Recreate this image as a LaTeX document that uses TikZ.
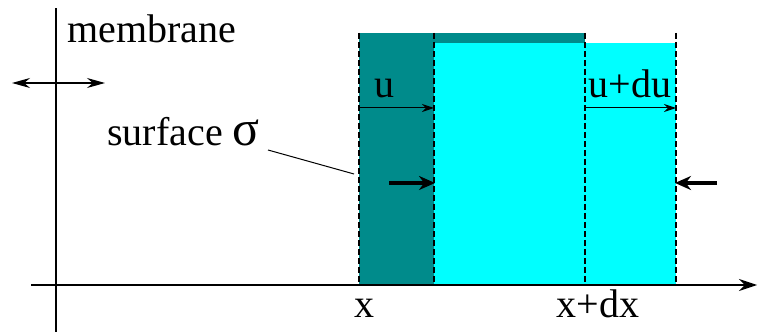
\documentclass[tikz,border=0pt]{standalone}
\usepackage{fontspec}
\setmainfont{Liberation Serif}
\usetikzlibrary{arrows.meta}
\definecolor{darkteal}{RGB}{0,139,139}
\definecolor{lightcyan}{RGB}{0,255,255}
\tikzset{
  lbl/.style={inner sep=0pt, font=\fontsize{20}{24}\selectfont},
  guide/.style={dash pattern=on 3pt off 1.5pt, line width=0.6pt},
  thin arrow/.style={-{Stealth[length=6pt,width=4pt]}, line width=0.5pt},
  push arrow/.style={-{Stealth[length=8pt,width=7pt]}, line width=2pt},
}
\begin{document}
\begin{tikzpicture}[x=0.5pt,y=-0.5pt]
        \useasboundingbox (0,0) rectangle (758,335);
        % blocs
        \fill[darkteal] (359,33) rectangle (434,285);
        \fill[darkteal] (434,33) rectangle (585,43);
        \fill[lightcyan] (434,43) rectangle (676,285);
        % axes
        \coordinate (yb) at (56,332);
        \coordinate (yt) at (56,8);
        \coordinate (xl) at (31,285);
        \coordinate (xr) at (757,285);
        \draw[line width=1.4pt] (yb) -- (yt);
        \draw[line width=0.9pt,-{Stealth[length=9pt,width=6pt]}] (xl) -- (xr);
        % membrane
        \coordinate (ml) at (12,83);
        \coordinate (mr) at (105,83);
        \draw[line width=0.6pt,{Stealth[length=9pt,width=5pt]}-{Stealth[length=9pt,width=5pt]}] (ml) -- (mr);
        \node[lbl, anchor=base west] (memb) at (67,43) {membrane};
        % sections
        \foreach \n/\xx in {a/359, b/434, c/585, d/676} {
          \coordinate (\n top) at (\xx,33);
          \coordinate (\n bot) at (\xx,285);
          \draw[guide] (\n top) -- (\n bot);
        }
        % deplacements
        \coordinate (ua) at (359,108);
        \coordinate (ub) at (434,108);
        \coordinate (duc) at (585,108);
        \coordinate (dud) at (676,108);
        \draw[thin arrow] (ua) -- (ub);
        \draw[thin arrow] (duc) -- (dud);
        \node[lbl, anchor=base] (u) at (384,98) {u};
        \node[lbl, anchor=base] (udu) at (630,98) {u+du};
        % forces
        \coordinate (fl) at (389,183);
        \coordinate (fb) at (435,183);
        \coordinate (fr) at (717,183);
        \coordinate (fd) at (675,183);
        \draw[push arrow] (fl) -- (fb);
        \draw[push arrow] (fr) -- (fd);
        % surface
        \node[lbl, anchor=base west] (surf) at (107,146) {surface {\fontsize{25}{25}\selectfont σ}};
        \coordinate (sq) at (268,150);
        \coordinate (sp) at (354,174);
        \draw[line width=0.5pt] (sq) -- (sp);
        % abscisses
        \node[lbl, anchor=base] (x) at (364,318) {x};
        \node[lbl, anchor=base] (xdx) at (598,318) {x+dx};
\end{tikzpicture}
\end{document}
